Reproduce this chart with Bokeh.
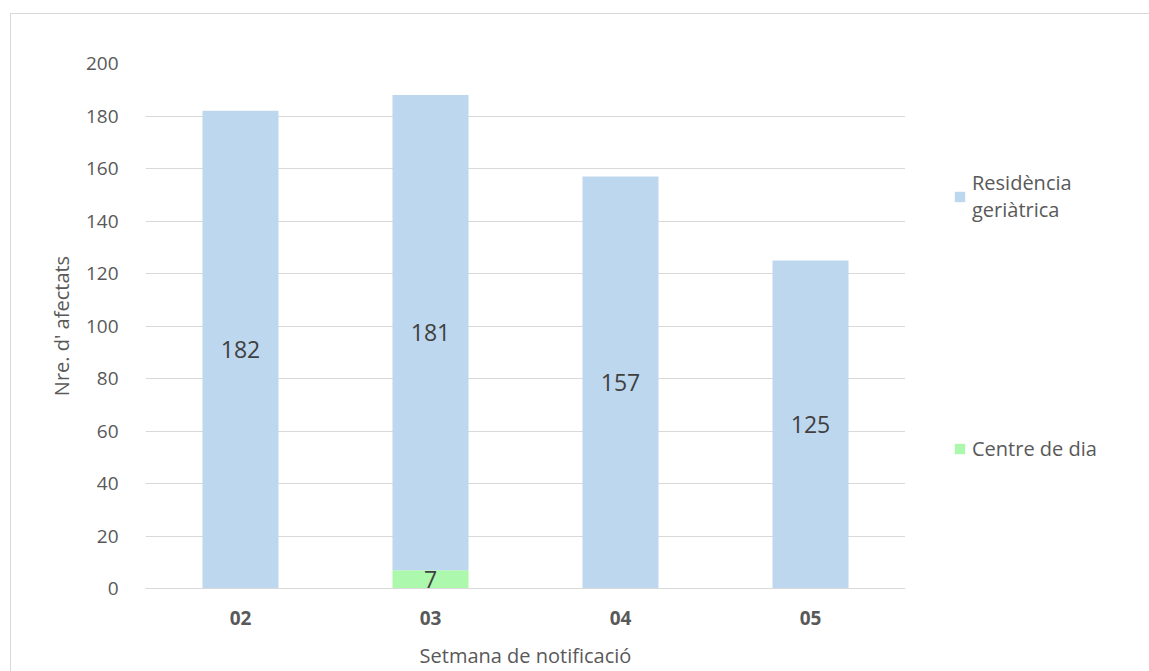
from bokeh.plotting import figure
from bokeh.layouts import row
from bokeh.models import (FactorRange, Range1d, FixedTicker, Legend, LegendItem,
                          ColumnDataSource)
from bokeh.core.properties import value
from bokeh.embed import file_html
from bokeh.resources import INLINE

# Weekly counts of people affected, by type of centre
weeks = ["02", "03", "04", "05"]
centre_dia = [0, 7, 0, 0]
residencia = [182, 181, 157, 125]
y_ticks = [0, 20, 40, 60, 80, 100, 120, 140, 160, 180, 200]
series_names = ["Residència\ngeriàtrica", "Centre de dia"]

FONT = "Open Sans"
TXT = "#595959"
GRID = "#d9d9d9"
BLUE = "#BDD7EE"
GREEN = "#ACF8AC"

src = ColumnDataSource(dict(weeks=weeks, centre=centre_dia, resid=residencia))

p = figure(x_range=FactorRange(*weeks), y_range=Range1d(0, 200),
           width=894, height=657, output_backend="svg", toolbar_location=None,
           min_border_left=134, min_border_right=0,
           min_border_top=49, min_border_bottom=83)

p.vbar_stack(["centre", "resid"], x="weeks", width=0.4, source=src,
             color=[GREEN, BLUE], line_color=None)

# value labels centred in each non-empty segment
lab_x, lab_y, lab_t = [], [], []
for w, c, r in zip(weeks, centre_dia, residencia):
    if c > 0:
        lab_x.append(w); lab_y.append(c / 2); lab_t.append(str(c))
    if r > 0:
        lab_x.append(w); lab_y.append(c + r / 2); lab_t.append(str(r))
p.text(x=lab_x, y=lab_y, text=lab_t, text_align="center", text_baseline="middle",
       text_font=value(FONT), text_font_size="23px", text_color="#404040")

p.outline_line_color = None
p.xgrid.grid_line_color = None
p.ygrid.grid_line_color = GRID
p.ygrid.ticker = FixedTicker(ticks=y_ticks)

p.yaxis.ticker = FixedTicker(ticks=y_ticks)
p.yaxis.axis_line_color = None
p.yaxis.major_tick_line_color = None
p.yaxis.minor_tick_line_color = None
p.yaxis.major_label_standoff = 21
p.yaxis.axis_label = "Nre. d' afectats"
p.yaxis.axis_label_standoff = 8

p.xaxis.axis_line_color = GRID
p.xaxis.major_tick_line_color = None
p.xaxis.minor_tick_line_color = None
p.xaxis.major_label_standoff = 16
p.xaxis.major_label_text_font_style = "bold"
p.xaxis.axis_label = "Setmana de notificació"
p.xaxis.axis_label_standoff = 14

for ax in (p.xaxis[0], p.yaxis[0]):
    ax.major_label_text_font = FONT
    ax.major_label_text_font_size = "19px"
    ax.major_label_text_color = TXT
    ax.axis_label_text_font = FONT
    ax.axis_label_text_font_size = "20px"
    ax.axis_label_text_font_style = "normal"
    ax.axis_label_text_color = TXT

# side panel holding the legend; its swatch renderers sit outside the visible range
side = figure(width=244, height=657, x_range=Range1d(0, 1), y_range=Range1d(0, 1),
              x_axis_type=None, y_axis_type=None, output_backend="svg",
              toolbar_location=None, min_border=0)
side.outline_line_color = None
side.grid.visible = False
swatch_b = side.vbar(x=[-5], top=[-5], bottom=[-6], width=0.1, color=BLUE, line_color=None)
swatch_g = side.vbar(x=[-5], top=[-5], bottom=[-6], width=0.1, color=GREEN, line_color=None)

legend = Legend(items=[LegendItem(label=series_names[0], renderers=[swatch_b]),
                       LegendItem(label=series_names[1], renderers=[swatch_g])],
                location=(48, 126), padding=0, margin=0, spacing=212,
                border_line_color=None, background_fill_alpha=0,
                glyph_width=13, glyph_height=13, label_standoff=6,
                label_text_font=FONT, label_text_font_size="20px",
                label_text_color=TXT)
side.add_layout(legend, "center")

layout = row(p, side)
layout.styles = {"margin-left": "10px", "margin-top": "13px",
                 "border-top": f"1px solid {GRID}", "border-left": f"1px solid {GRID}"}

open("out.html", "w").write(file_html(layout, INLINE))
